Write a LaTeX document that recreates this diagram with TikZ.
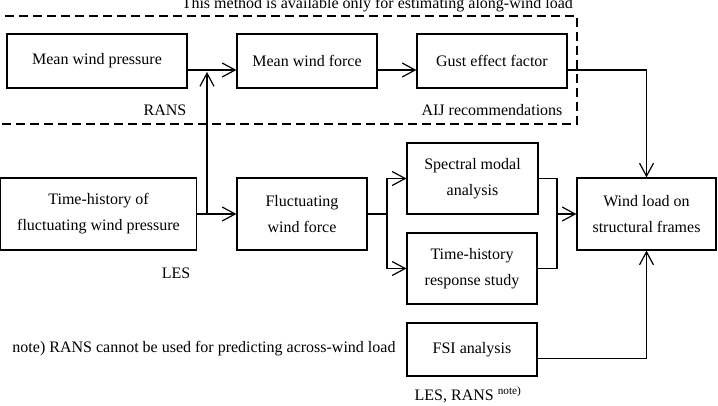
\documentclass[tikz,border=0pt]{standalone}
\usepackage{fontspec}
\setmainfont{Liberation Serif}
\usetikzlibrary{arrows.meta}

\begin{document}
\begin{tikzpicture}[
    x=1pt, y=-1pt,
    font=\fontsize{16}{26}\selectfont,
    box/.style={draw, line width=1.2pt, align=center, inner sep=0pt},
    lbl/.style={inner sep=0pt},
    line/.style={-{Straight Barb[length=13pt,width=14pt]}, line width=1.2pt},
    link/.style={line width=1.2pt}
]
\useasboundingbox (0,0) rectangle (718,406);

% along-wind only region
\draw[dash pattern=on 9pt off 5pt, line width=1.2pt] (-2,16) rectangle (577,124);
\node[lbl, anchor=base east] (title) at (573,9) {This method is available only for estimating along-wind load};

\node[box, minimum width=180pt, minimum height=54pt] (mwp) at (97,61)    {Mean wind pressure};
\node[box, minimum width=140pt, minimum height=54pt] (mwf) at (307,61)   {Mean wind force};
\node[box, minimum width=150pt, minimum height=54pt] (gef) at (492,61)   {Gust effect factor};
\node[box, minimum width=196pt, minimum height=72pt] (thp) at (98.5,214) {Time-history of\\fluctuating wind pressure};
\node[box, minimum width=130pt, minimum height=72pt] (fwf) at (302,214)  {Fluctuating\\wind force};
\node[box, minimum width=131pt, minimum height=71pt] (sma) at (472.5,178.5) {Spectral modal\\analysis};
\node[box, minimum width=130pt, minimum height=71pt] (thr) at (472,268.5)   {Time-history\\response study};
\node[box, minimum width=130pt, minimum height=53pt] (fsi) at (472,349.5)   {FSI analysis};
\node[box, minimum width=139pt, minimum height=72pt] (wls) at (646.5,214)   {Wind load on\\structural frames};

\node[lbl] (rans) at (165,110) {RANS};
\node[lbl] (aij)  at (492,110) {AIJ recommendations};
\node[lbl] (les)  at (176,273) {LES};
\node[lbl] (note) at (204,349) {note) RANS cannot be used for predicting across-wind load};
\node[lbl] (lesrans) at (468,395) {LES, RANS \textsuperscript{note)}};

\coordinate (j1)    at (207,214);
\coordinate (j1top) at (207,72);
\coordinate (j2)    at (387,214);
\coordinate (j3)    at (557,214);

\draw[line] ([yshift=-9pt]mwp.east) -- ([yshift=-9pt]mwf.west);
\draw[line] ([yshift=-9pt]mwf.east) -- ([yshift=-9pt]gef.west);
\draw[line] ([yshift=-9pt]gef.east) -| (wls.north);
\draw[line] (thp) -- (fwf);
\draw[line] (j1) -- (j1top);
\draw[link] (fwf.east) -- (j2);
\draw[line] (j2) |- (sma.west);
\draw[line] (j2) |- (thr.west);
\draw[link] (sma.east) -| (j3);
\draw[link] (thr.east) -| (j3);
\draw[line] (j3) -- (wls.west);
\draw[line] ([yshift=-9pt]fsi.east) -| (wls.south);
\end{tikzpicture}
\end{document}
